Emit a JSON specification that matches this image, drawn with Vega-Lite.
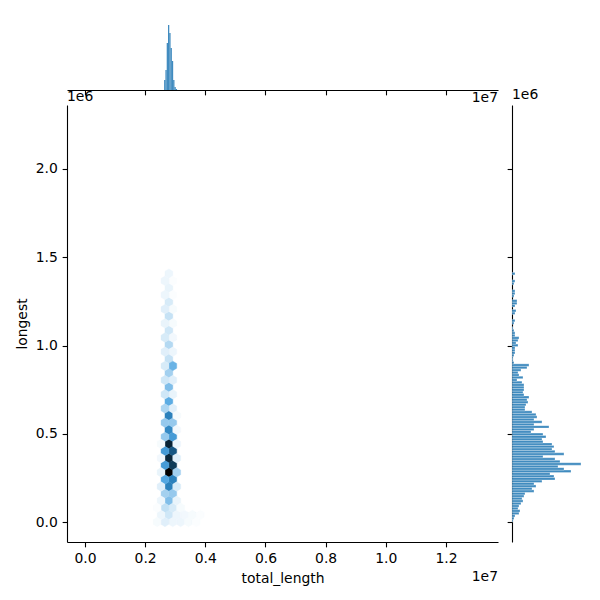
{
  "$schema": "https://vega.github.io/schema/vega-lite/v6.json",
  "background": "white",
  "padding": {"left": 15, "top": 15, "right": 5, "bottom": 5},
  "config": {
    "font": "DejaVu Sans",
    "view": {"stroke": null},
    "axis": {"domainColor": "#000000", "tickColor": "#000000", "domainWidth": 1.1, "tickWidth": 1.1, "tickSize": 4.86, "labelPadding": 4.86, "labelFontSize": 13.9, "labelColor": "#000000", "labelFont": "DejaVu Sans", "titleFont": "DejaVu Sans", "titleFontSize": 13.9, "titleFontWeight": "normal", "titleColor": "#000000", "titlePadding": 5.5, "grid": false, "labelFlush": false, "labelOverlap": false},
    "text": {"font": "DejaVu Sans", "fontSize": 13.9, "color": "#000000"}
  },
  "bounds": "flush",
  "spacing": 15,
  "datasets": {
    "xhist": [
      {"bin_start": 2630000, "bin_end": 2673000, "count": 60},
      {"bin_start": 2673000, "bin_end": 2716000, "count": 120},
      {"bin_start": 2716000, "bin_end": 2759000, "count": 282},
      {"bin_start": 2759000, "bin_end": 2802000, "count": 390},
      {"bin_start": 2802000, "bin_end": 2845000, "count": 342},
      {"bin_start": 2845000, "bin_end": 2888000, "count": 252},
      {"bin_start": 2888000, "bin_end": 2931000, "count": 174},
      {"bin_start": 2931000, "bin_end": 2974000, "count": 60},
      {"bin_start": 2974000, "bin_end": 3017000, "count": 18},
      {"bin_start": 3017000, "bin_end": 3060000, "count": 6}
    ],
    "yhist": [
      {"bin_start": 0, "bin_end": 14000, "count": 1},
      {"bin_start": 14000, "bin_end": 28000, "count": 2},
      {"bin_start": 28000, "bin_end": 42000, "count": 3},
      {"bin_start": 42000, "bin_end": 56000, "count": 7},
      {"bin_start": 56000, "bin_end": 70000, "count": 8},
      {"bin_start": 70000, "bin_end": 84000, "count": 6},
      {"bin_start": 84000, "bin_end": 98000, "count": 7},
      {"bin_start": 98000, "bin_end": 112000, "count": 9},
      {"bin_start": 112000, "bin_end": 126000, "count": 11},
      {"bin_start": 126000, "bin_end": 140000, "count": 10},
      {"bin_start": 140000, "bin_end": 154000, "count": 12},
      {"bin_start": 154000, "bin_end": 168000, "count": 13},
      {"bin_start": 168000, "bin_end": 182000, "count": 22},
      {"bin_start": 182000, "bin_end": 196000, "count": 20},
      {"bin_start": 196000, "bin_end": 210000, "count": 24},
      {"bin_start": 210000, "bin_end": 224000, "count": 22},
      {"bin_start": 224000, "bin_end": 238000, "count": 30},
      {"bin_start": 238000, "bin_end": 252000, "count": 43},
      {"bin_start": 252000, "bin_end": 266000, "count": 42},
      {"bin_start": 266000, "bin_end": 280000, "count": 38},
      {"bin_start": 280000, "bin_end": 294000, "count": 59},
      {"bin_start": 294000, "bin_end": 308000, "count": 52},
      {"bin_start": 308000, "bin_end": 322000, "count": 46},
      {"bin_start": 322000, "bin_end": 336000, "count": 69},
      {"bin_start": 336000, "bin_end": 350000, "count": 48},
      {"bin_start": 350000, "bin_end": 364000, "count": 43},
      {"bin_start": 364000, "bin_end": 378000, "count": 31},
      {"bin_start": 378000, "bin_end": 392000, "count": 52},
      {"bin_start": 392000, "bin_end": 406000, "count": 43},
      {"bin_start": 406000, "bin_end": 420000, "count": 40},
      {"bin_start": 420000, "bin_end": 434000, "count": 42},
      {"bin_start": 434000, "bin_end": 448000, "count": 40},
      {"bin_start": 448000, "bin_end": 462000, "count": 31},
      {"bin_start": 462000, "bin_end": 476000, "count": 30},
      {"bin_start": 476000, "bin_end": 490000, "count": 34},
      {"bin_start": 490000, "bin_end": 504000, "count": 31},
      {"bin_start": 504000, "bin_end": 518000, "count": 19},
      {"bin_start": 518000, "bin_end": 532000, "count": 22},
      {"bin_start": 532000, "bin_end": 546000, "count": 37},
      {"bin_start": 546000, "bin_end": 560000, "count": 22},
      {"bin_start": 560000, "bin_end": 574000, "count": 30},
      {"bin_start": 574000, "bin_end": 588000, "count": 22},
      {"bin_start": 588000, "bin_end": 602000, "count": 25},
      {"bin_start": 602000, "bin_end": 616000, "count": 24},
      {"bin_start": 616000, "bin_end": 630000, "count": 20},
      {"bin_start": 630000, "bin_end": 644000, "count": 13},
      {"bin_start": 644000, "bin_end": 658000, "count": 13},
      {"bin_start": 658000, "bin_end": 672000, "count": 14},
      {"bin_start": 672000, "bin_end": 686000, "count": 16},
      {"bin_start": 686000, "bin_end": 700000, "count": 15},
      {"bin_start": 700000, "bin_end": 714000, "count": 17},
      {"bin_start": 714000, "bin_end": 728000, "count": 12},
      {"bin_start": 728000, "bin_end": 742000, "count": 11},
      {"bin_start": 742000, "bin_end": 756000, "count": 12},
      {"bin_start": 756000, "bin_end": 770000, "count": 12},
      {"bin_start": 770000, "bin_end": 784000, "count": 12},
      {"bin_start": 784000, "bin_end": 798000, "count": 10},
      {"bin_start": 798000, "bin_end": 812000, "count": 5},
      {"bin_start": 812000, "bin_end": 826000, "count": 11},
      {"bin_start": 826000, "bin_end": 840000, "count": 7},
      {"bin_start": 840000, "bin_end": 854000, "count": 6},
      {"bin_start": 854000, "bin_end": 868000, "count": 9},
      {"bin_start": 868000, "bin_end": 882000, "count": 15},
      {"bin_start": 882000, "bin_end": 896000, "count": 17},
      {"bin_start": 896000, "bin_end": 910000, "count": 2},
      {"bin_start": 910000, "bin_end": 924000, "count": 1},
      {"bin_start": 924000, "bin_end": 938000, "count": 1},
      {"bin_start": 938000, "bin_end": 952000, "count": 2},
      {"bin_start": 952000, "bin_end": 966000, "count": 3},
      {"bin_start": 966000, "bin_end": 980000, "count": 3},
      {"bin_start": 980000, "bin_end": 994000, "count": 3},
      {"bin_start": 994000, "bin_end": 1008000, "count": 6},
      {"bin_start": 1008000, "bin_end": 1022000, "count": 4},
      {"bin_start": 1022000, "bin_end": 1036000, "count": 6},
      {"bin_start": 1036000, "bin_end": 1050000, "count": 7},
      {"bin_start": 1050000, "bin_end": 1064000, "count": 3},
      {"bin_start": 1064000, "bin_end": 1078000, "count": 3},
      {"bin_start": 1078000, "bin_end": 1092000, "count": 2},
      {"bin_start": 1092000, "bin_end": 1106000, "count": 1},
      {"bin_start": 1120000, "bin_end": 1134000, "count": 2},
      {"bin_start": 1134000, "bin_end": 1148000, "count": 3},
      {"bin_start": 1176000, "bin_end": 1190000, "count": 3},
      {"bin_start": 1190000, "bin_end": 1204000, "count": 4},
      {"bin_start": 1218000, "bin_end": 1232000, "count": 3},
      {"bin_start": 1232000, "bin_end": 1246000, "count": 5},
      {"bin_start": 1246000, "bin_end": 1260000, "count": 5},
      {"bin_start": 1274000, "bin_end": 1288000, "count": 2},
      {"bin_start": 1288000, "bin_end": 1302000, "count": 3},
      {"bin_start": 1302000, "bin_end": 1316000, "count": 3},
      {"bin_start": 1344000, "bin_end": 1358000, "count": 2},
      {"bin_start": 1358000, "bin_end": 1372000, "count": 3},
      {"bin_start": 1400000, "bin_end": 1414000, "count": 3}
    ],
    "hex": [
      {"total_length": 2788670, "longest": 40200, "count": 12},
      {"total_length": 2788670, "longest": 120600, "count": 30},
      {"total_length": 2788670, "longest": 201000, "count": 55},
      {"total_length": 2788670, "longest": 281400, "count": 100},
      {"total_length": 2788670, "longest": 361800, "count": 86},
      {"total_length": 2788670, "longest": 442200, "count": 88},
      {"total_length": 2788670, "longest": 522600, "count": 52},
      {"total_length": 2788670, "longest": 603000, "count": 55},
      {"total_length": 2788670, "longest": 683400, "count": 38},
      {"total_length": 2788670, "longest": 763800, "count": 30},
      {"total_length": 2788670, "longest": 844200, "count": 22},
      {"total_length": 2788670, "longest": 924600, "count": 14},
      {"total_length": 2788670, "longest": 1005000, "count": 18},
      {"total_length": 2788670, "longest": 1085400, "count": 12},
      {"total_length": 2788670, "longest": 1165800, "count": 14},
      {"total_length": 2788670, "longest": 1246200, "count": 10},
      {"total_length": 2788670, "longest": 1326600, "count": 6},
      {"total_length": 2788670, "longest": 1407000, "count": 5},
      {"total_length": 2918940, "longest": 0, "count": 5},
      {"total_length": 2918940, "longest": 80400, "count": 10},
      {"total_length": 2918940, "longest": 160800, "count": 25},
      {"total_length": 2918940, "longest": 241200, "count": 55},
      {"total_length": 2918940, "longest": 321600, "count": 80},
      {"total_length": 2918940, "longest": 402000, "count": 70},
      {"total_length": 2918940, "longest": 482400, "count": 45},
      {"total_length": 2918940, "longest": 562800, "count": 25},
      {"total_length": 2918940, "longest": 643200, "count": 8},
      {"total_length": 2918940, "longest": 723600, "count": 6},
      {"total_length": 2918940, "longest": 804000, "count": 8},
      {"total_length": 2918940, "longest": 884400, "count": 35},
      {"total_length": 2918940, "longest": 964800, "count": 5},
      {"total_length": 2918940, "longest": 1045200, "count": 4},
      {"total_length": 2918940, "longest": 1125600, "count": 3},
      {"total_length": 2918940, "longest": 1206000, "count": 3},
      {"total_length": 2918940, "longest": 1286400, "count": 2},
      {"total_length": 2918940, "longest": 1366800, "count": 2},
      {"total_length": 2658400, "longest": 0, "count": 8},
      {"total_length": 2658400, "longest": 80400, "count": 15},
      {"total_length": 2658400, "longest": 160800, "count": 22},
      {"total_length": 2658400, "longest": 241200, "count": 40},
      {"total_length": 2658400, "longest": 321600, "count": 45},
      {"total_length": 2658400, "longest": 402000, "count": 45},
      {"total_length": 2658400, "longest": 482400, "count": 25},
      {"total_length": 2658400, "longest": 562800, "count": 25},
      {"total_length": 2658400, "longest": 643200, "count": 20},
      {"total_length": 2658400, "longest": 723600, "count": 12},
      {"total_length": 2658400, "longest": 804000, "count": 12},
      {"total_length": 2658400, "longest": 884400, "count": 10},
      {"total_length": 2658400, "longest": 964800, "count": 8},
      {"total_length": 2658400, "longest": 1045200, "count": 10},
      {"total_length": 2658400, "longest": 1125600, "count": 6},
      {"total_length": 2658400, "longest": 1206000, "count": 8},
      {"total_length": 2658400, "longest": 1286400, "count": 5},
      {"total_length": 2658400, "longest": 1366800, "count": 5},
      {"total_length": 3049210, "longest": 40200, "count": 5},
      {"total_length": 3049210, "longest": 120600, "count": 6},
      {"total_length": 3049210, "longest": 201000, "count": 10},
      {"total_length": 3049210, "longest": 281400, "count": 22},
      {"total_length": 3049210, "longest": 361800, "count": 8},
      {"total_length": 3049210, "longest": 442200, "count": 5},
      {"total_length": 3049210, "longest": 522600, "count": 4},
      {"total_length": 3049210, "longest": 603000, "count": 3},
      {"total_length": 2528130, "longest": 40200, "count": 5},
      {"total_length": 2528130, "longest": 120600, "count": 5},
      {"total_length": 2528130, "longest": 201000, "count": 8},
      {"total_length": 2528130, "longest": 281400, "count": 6},
      {"total_length": 2528130, "longest": 361800, "count": 4},
      {"total_length": 2528130, "longest": 442200, "count": 3},
      {"total_length": 2397860, "longest": 0, "count": 3},
      {"total_length": 2397860, "longest": 80400, "count": 2},
      {"total_length": 3179480, "longest": 0, "count": 5},
      {"total_length": 3179480, "longest": 80400, "count": 3},
      {"total_length": 3309750, "longest": 40200, "count": 4},
      {"total_length": 3440020, "longest": 0, "count": 3},
      {"total_length": 3570290, "longest": 40200, "count": 3},
      {"total_length": 3700560, "longest": 0, "count": 2},
      {"total_length": 3830830, "longest": 40200, "count": 2}
    ]
  },
  "vconcat": [
    {
      "width": 431,
      "height": 75,
      "layer": [
        {
          "data": {"name": "xhist"},
          "mark": {"type": "rect", "fill": "#1f77b4", "fillOpacity": 0.85},
          "encoding": {
            "x": {"field": "bin_start", "type": "quantitative", "scale": {"domain": [-598400, 13730000], "nice": false, "zero": false}, "axis": {"values": [0, 2000000, 4000000, 6000000, 8000000, 10000000, 12000000], "labels": false, "title": null}},
            "x2": {"field": "bin_end"},
            "y": {"field": "count", "type": "quantitative", "scale": {"domain": [0, 450], "nice": false}, "axis": null},
            "y2": {"datum": 0}
          }
        },
        {
          "data": {"values": [{"label": "1e7", "x": 13730000, "y": 0}]},
          "mark": {"type": "text", "align": "right", "baseline": "middle", "dy": 8},
          "encoding": {
            "x": {"field": "x", "type": "quantitative"},
            "y": {"field": "y", "type": "quantitative"},
            "text": {"field": "label"}
          }
        }
      ]
    },
    {
      "bounds": "flush",
      "spacing": 14,
      "hconcat": [
        {
          "width": 431,
          "height": 437,
          "layer": [
            {
              "data": {"name": "hex"},
              "mark": {"type": "point", "shape": "M0,-1.2075L1,-0.6037L1,0.6037L0,1.2075L-1,0.6037L-1,-0.6037Z", "filled": true, "size": 61.4, "strokeWidth": 0.4, "opacity": 1},
              "encoding": {
                "x": {"field": "total_length", "type": "quantitative", "scale": {"domain": [-598400, 13730000], "nice": false, "zero": false}, "axis": {"values": [0, 2000000, 4000000, 6000000, 8000000, 10000000, 12000000], "labelExpr": "format(datum.value / 10000000, '.1f')", "title": "total_length"}},
                "y": {"field": "longest", "type": "quantitative", "scale": {"domain": [-113300, 2362600], "nice": false, "zero": false}, "axis": {"values": [0, 500000, 1000000, 1500000, 2000000], "labelExpr": "format(datum.value / 1000000, '.1f')", "title": "longest"}},
                "fill": {"field": "count", "type": "quantitative", "scale": {"domain": [1, 100], "range": ["#ffffff", "#a8d3f0", "#51a6e1", "#1e73ae", "#0f3a57", "#000000"], "interpolate": "rgb"}, "legend": null},
                "stroke": {"field": "count", "type": "quantitative", "scale": {"domain": [1, 100], "range": ["#ffffff", "#a8d3f0", "#51a6e1", "#1e73ae", "#0f3a57", "#000000"], "interpolate": "rgb"}, "legend": null}
              }
            },
            {
              "data": {"values": [{"label": "1e6", "x": -598400, "y": 2362600}]},
              "mark": {"type": "text", "align": "left", "baseline": "bottom", "dy": -1},
              "encoding": {
                "x": {"field": "x", "type": "quantitative"},
                "y": {"field": "y", "type": "quantitative"},
                "text": {"field": "label"}
              }
            },
            {
              "data": {"values": [{"label": "1e7", "x": 13730000, "y": -113300}]},
              "mark": {"type": "text", "align": "right", "baseline": "middle", "dy": 35},
              "encoding": {
                "x": {"field": "x", "type": "quantitative"},
                "y": {"field": "y", "type": "quantitative"},
                "text": {"field": "label"}
              }
            }
          ]
        },
        {
          "width": 74,
          "height": 437,
          "layer": [
            {
              "data": {"name": "yhist"},
              "mark": {"type": "rect", "fill": "#1f77b4", "fillOpacity": 0.85, "stroke": "#ffffff", "strokeWidth": 0.3},
              "encoding": {
                "y": {"field": "bin_start", "type": "quantitative", "scale": {"domain": [-113300, 2362600], "nice": false, "zero": false}, "axis": {"values": [0, 500000, 1000000, 1500000, 2000000], "labels": false, "title": null}},
                "y2": {"field": "bin_end"},
                "x": {"field": "count", "type": "quantitative", "scale": {"domain": [0, 74], "nice": false}, "axis": null},
                "x2": {"datum": 0}
              }
            },
            {
              "data": {"values": [{"label": "1e6", "x": 0, "y": 2362600}]},
              "mark": {"type": "text", "align": "left", "baseline": "bottom", "dy": -3},
              "encoding": {
                "x": {"field": "x", "type": "quantitative"},
                "y": {"field": "y", "type": "quantitative"},
                "text": {"field": "label"}
              }
            }
          ]
        }
      ]
    }
  ]
}
